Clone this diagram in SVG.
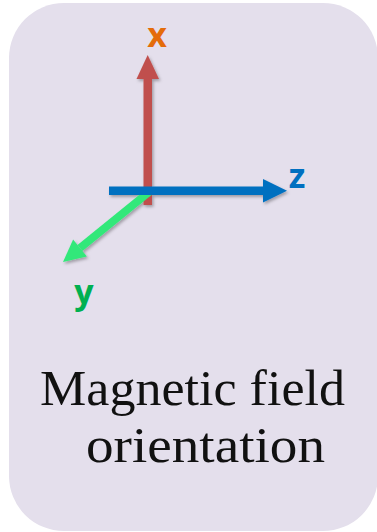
<svg xmlns="http://www.w3.org/2000/svg" width="377" height="532" viewBox="0 0 377 532">
<style>
.axis-label{font-family:"Open Sans","Liberation Sans",sans-serif;font-weight:700;font-size:34px;text-anchor:middle}
.caption{font-family:"Liberation Serif","DejaVu Serif",serif;font-size:50px;fill:#111}
</style>
<defs>
<filter id="sh" x="-30%" y="-30%" width="160%" height="160%">
<feDropShadow dx="1.5" dy="2" stdDeviation="1.5" flood-color="#000" flood-opacity="0.3"/>
</filter>
</defs>
<g id="panel">
<rect x="9" y="3" width="369" height="528" rx="55" ry="55" fill="#E4DFEC"/>
</g>
<g id="connectors" filter="url(#sh)">
<g id="axis-x">
<rect x="143.5" y="78" width="8.5" height="127" fill="#C0504D"/>
<polygon points="147.7,55 159,79 136.5,79" fill="#C0504D"/>
</g>
<g id="axis-y">
<line x1="149" y1="192" x2="80" y2="248" stroke="#33E87A" stroke-width="8"/>
<polygon points="63,262 86.9,256.5 73.1,239.5" fill="#33E87A"/>
</g>
<g id="axis-z">
<rect x="109" y="186.5" width="155" height="8.5" fill="#0070C0"/>
<polygon points="287,190.7 263,179 263,202.5" fill="#0070C0"/>
</g>
</g>
<g id="labels">
<text class="axis-label" x="157" y="47" fill="#E46C0A">x</text>
<text class="axis-label" x="297" y="188" fill="#0070C0">z</text>
<text class="axis-label" x="84" y="304" fill="#00B050">y</text>
</g>
<g id="caption">
<text class="caption" x="40" y="405" textLength="305" lengthAdjust="spacingAndGlyphs">Magnetic field</text>
<text class="caption" x="86" y="462" textLength="239" lengthAdjust="spacingAndGlyphs">orientation</text>
</g>
</svg>
